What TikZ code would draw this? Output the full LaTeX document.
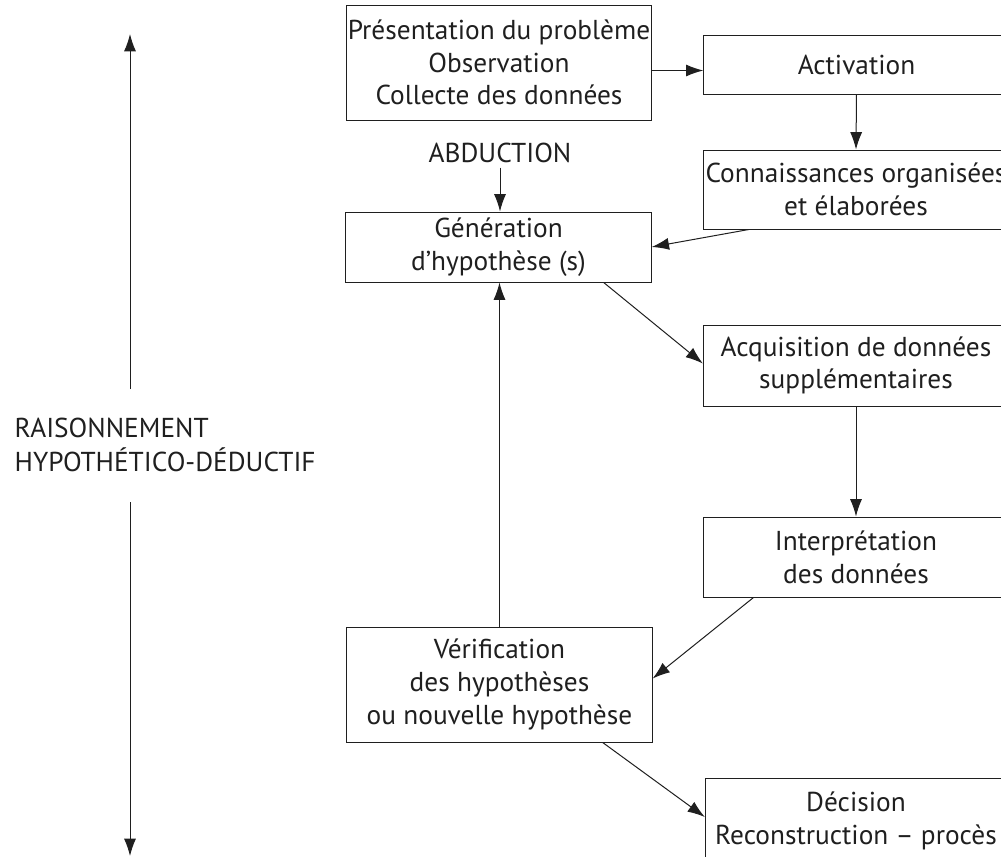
\documentclass[tikz,border=0pt]{standalone}
\usepackage{fontspec}
\setmainfont{PT Sans}
\usetikzlibrary{arrows.meta}
\definecolor{ink}{gray}{0.12}
\begin{document}
\begin{tikzpicture}[x=0.75pt,y=-0.75pt,
  every node/.style={text=ink,font=\fontsize{20.5}{24.5}\selectfont},
  box/.style={draw=ink,line width=0.75pt,rectangle,inner sep=0pt,align=center,minimum width=229pt},
  arr/.style={draw=ink,line width=0.75pt,-{Latex[length=13pt,width=9pt]}}]
\useasboundingbox (0,0) rectangle (1001,857);
\clip (0,0) rectangle (1001,857);
\node[box,minimum height=86.25pt] (b1) at (499,62.5) {Présentation du problème\\Observation\\Collecte des données};
\node[box,minimum height=44.25pt] (act) at (856.5,64.5) {Activation};
\node[box,minimum height=59.25pt] (con) at (856,189.5) {Connaissances organisées\\et élaborées};
\node (abd) at (500,153) {ABDUCTION};
\node[box,minimum height=52.5pt] (gen) at (498.5,247) {Génération\\d’hypothèse (s)};
\node[box,minimum height=60.75pt] (acq) at (856,365.5) {Acquisition de données\\supplémentaires};
\node[box,minimum height=60pt] (int) at (856,557) {Interprétation\\des données};
\node[box,minimum height=86.25pt] (ver) at (499.5,684.5) {Vérification\\des hypothèses\\ou nouvelle hypothèse};
\node[box,minimum height=75pt] (dec) at (858,828) {};
\node[align=center] (dect) at (856,821) {Décision\\Reconstruction – procès};
\node[align=left,anchor=west,font=\fontsize{20.5}{25}\selectfont] (lab) at (10,445) {RAISONNEMENT\\HYPOTHÉTICO-DÉDUCTIF};
\coordinate (ltop) at (130,34);
\coordinate (lbot) at (130,856);
\coordinate (lu) at (130,389);
\coordinate (ld) at (130,502);
\draw[arr] (lu) -- (ltop);
\draw[arr] (ld) -- (lbot);
\draw[arr] ([yshift=-6pt]b1.east) -- ([yshift=-6pt]b1.east -| act.west);
\draw[arr] (act.south) -- (con.north);
\draw[arr] ([xshift=34.5pt]con.south west) -- (gen.east);
\draw[arr] (abd.south) -- (abd.south |- gen.north);
\draw[arr] (ver.north) -- (ver.north |- gen.south);
\draw[arr] ([xshift=-36pt]gen.south east) -- ([yshift=1.5pt]acq.west);
\draw[arr] (acq.south) -- (int.north);
\draw[arr] ([xshift=38pt]int.south west) -- ([yshift=4.5pt]ver.east);
\draw[arr] ([xshift=-37.5pt]ver.south east) -- ([yshift=8.25pt]dec.west);
\end{tikzpicture}
\end{document}
